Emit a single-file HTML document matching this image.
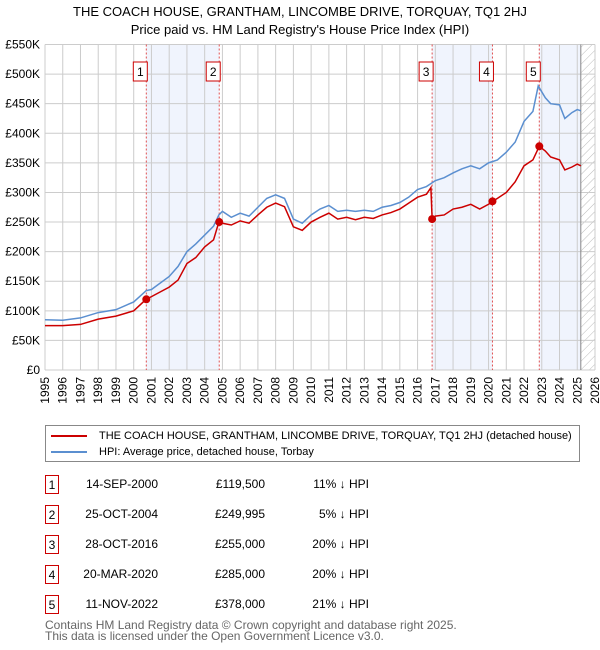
<!DOCTYPE html>
<html><head><meta charset="utf-8"><style>
body{margin:0;background:#fff;font-family:"Liberation Sans","DejaVu Sans",sans-serif;}
#wrap{position:relative;width:600px;height:650px;overflow:hidden;}
.t{position:absolute;font-size:12px;color:#000;white-space:nowrap;}
.box{position:absolute;width:14px;height:19px;border:1px solid #c00;font-size:12px;text-align:center;line-height:19px;box-sizing:border-box;}
</style></head><body><div id="wrap">
<div class="t" style="left:0;width:600px;text-align:center;top:4px;font-size:13px">THE COACH HOUSE, GRANTHAM, LINCOMBE DRIVE, TORQUAY, TQ1 2HJ</div>
<div class="t" style="left:0;width:600px;text-align:center;top:22px;font-size:13px">Price paid vs. HM Land Registry's House Price Index (HPI)</div>
<svg id="chart" width="600" height="420" style="position:absolute;left:0;top:0" font-family="Liberation Sans, DejaVu Sans, sans-serif"></svg>
<div style="position:absolute;left:45px;top:425px;width:535px;height:37px;border:1px solid #888;box-sizing:border-box">
<div style="position:absolute;left:5px;top:4px;font-size:11px;white-space:nowrap"><span style="display:inline-block;width:36px;height:2px;background:#c00;vertical-align:middle;margin-right:12px"></span>THE COACH HOUSE, GRANTHAM, LINCOMBE DRIVE, TORQUAY, TQ1 2HJ (detached house)</div>
<div style="position:absolute;left:5px;top:20px;font-size:11px;white-space:nowrap"><span style="display:inline-block;width:36px;height:2px;background:#5b8fd0;vertical-align:middle;margin-right:12px"></span>HPI: Average price, detached house, Torbay</div>
</div>
<div id="table"></div>
<div class="t" style="left:45px;top:618px;color:#666">Contains HM Land Registry data © Crown copyright and database right 2025.</div>
<div class="t" style="left:45px;top:629px;color:#666">This data is licensed under the Open Government Licence v3.0.</div>
</div>
<script>
const hpiYears=[1995,1996,1997,1998,1999,2000,2000.7,2001,2002,2002.5,2003,2003.5,2004,2004.5,2004.8,2005,2005.5,2006,2006.5,2007,2007.5,2008,2008.5,2009,2009.5,2010,2010.5,2011,2011.5,2012,2012.5,2013,2013.5,2014,2014.5,2015,2015.5,2016,2016.5,2017,2017.5,2018,2018.5,2019,2019.5,2020,2020.5,2021,2021.5,2022,2022.5,2022.8,2023.2,2023.5,2024,2024.3,2024.7,2025,2025.2];
const hpiValues=[85,84,88,97,102,115,134,136,158,175,200,213,228,243,262,268,258,265,260,275,290,296,290,255,248,262,272,278,268,270,268,270,268,275,278,283,292,305,310,320,325,333,340,345,340,350,355,368,385,420,437,480,460,450,448,425,435,440,438];
const priceYears=[1995,1996,1997,1998,1999,2000,2000.7,2001,2002,2002.5,2003,2003.5,2004,2004.5,2004.8,2005,2005.5,2006,2006.5,2007,2007.5,2008,2008.5,2009,2009.5,2010,2010.5,2011,2011.5,2012,2012.5,2013,2013.5,2014,2014.5,2015,2015.5,2016,2016.5,2016.75,2016.82,2017,2017.5,2018,2018.5,2019,2019.5,2020,2020.22,2020.5,2021,2021.5,2022,2022.5,2022.86,2023.2,2023.5,2024,2024.3,2024.7,2025,2025.2];
const priceValues=[75,75,77,86,91,100,119.5,124,140,152,180,190,208,220,250,248,245,252,248,262,275,282,276,242,236,250,258,265,255,258,254,258,256,262,266,272,282,292,297,308,255,260,262,272,275,280,272,280,285,290,300,318,345,355,378,370,360,355,338,343,348,345];
const saleLabels=["1","2","3","4","5"];
const saleYears=[2000.71,2004.82,2016.82,2020.22,2022.86];
const salePrices=[119.5,249.995,255,285,378];
const saleDates=["14-SEP-2000","25-OCT-2004","28-OCT-2016","20-MAR-2020","11-NOV-2022"];
const salePriceText=["£119,500","£249,995","£255,000","£285,000","£378,000"];
const salePct=["11%","5%","20%","20%","21%"];
const yTicks=[0,50,100,150,200,250,300,350,400,450,500,550];
const yTickLabels=["£0","£50K","£100K","£150K","£200K","£250K","£300K","£350K","£400K","£450K","£500K","£550K"];
const dataEnd=2025.2;

const X0=45,X1=595,Y0=370,Y1=44.5,yr0=1995,yr1=2026,vMax=550;
const xs=y=>X0+(y-yr0)/(yr1-yr0)*(X1-X0);
const ys=v=>Y0-v/vMax*(Y0-Y1);
const svg=document.getElementById('chart');
const NS='http://www.w3.org/2000/svg';
function mk(t,a,p){const e=document.createElementNS(NS,t);for(const k in a)e.setAttribute(k,a[k]);(p||svg).appendChild(e);return e;}
for(let i=0;i<saleYears.length;i+=2){
  const end=i+1<saleYears.length?saleYears[i+1]:dataEnd;
  const r=mk('rect',{x:xs(saleYears[i]),y:Y1,width:xs(end)-xs(saleYears[i]),height:Y0-Y1,fill:'#f0f4fd'});
  
  
}
const defs=mk('defs',{});
const pat=mk('pattern',{id:'h',width:6,height:6,patternUnits:'userSpaceOnUse',patternTransform:'rotate(45)'},defs);
mk('line',{x1:0,y1:0,x2:0,y2:6,stroke:'#bbb','stroke-width':1},pat);
const hr=mk('rect',{x:xs(dataEnd),y:Y1,width:X1-xs(dataEnd),height:Y0-Y1,fill:'url(#h)'});


for(let y=yr0;y<=yr1;y++){
  const l=mk('line',{x1:xs(y),x2:xs(y),y1:Y1,y2:Y0,stroke:'#ccc','stroke-width':1});
  
  
  const t=mk('text',{x:0,y:0,'font-size':12,'text-anchor':'end',transform:`translate(${xs(y)+4},${Y0+7}) rotate(-90)`});
  t.textContent=y;
  
  
}
yTicks.forEach((v,i)=>{
  const l=mk('line',{x1:X0,x2:X1,y1:ys(v),y2:ys(v),stroke:'#ccc','stroke-width':1});
  
  
  const t=mk('text',{x:X0-5,y:ys(v)+4,'font-size':12,'text-anchor':'end'});
  t.textContent=yTickLabels[i];
  
  
});
mk('line',{x1:xs(dataEnd),x2:xs(dataEnd),y1:Y1,y2:Y0,stroke:'#888','stroke-width':1});
saleYears.forEach((y,i)=>{
  const l=mk('line',{x1:xs(y),x2:xs(y),y1:Y1,y2:Y0,stroke:'#e05050','stroke-width':1,'stroke-dasharray':'2,2'});
  
  
  const r=mk('rect',{x:xs(y)-13,y:62,width:14,height:19,fill:'#fff',stroke:'#c00'});
  
  
  const t=mk('text',{x:xs(y)-6,y:76,'font-size':12,'text-anchor':'middle'});
  t.textContent=saleLabels[i];
  
  
});
const hp=mk('polyline',{points:hpiYears.map((y,i)=>xs(y)+','+ys(hpiValues[i])).join(' '),fill:'none',stroke:'#5b8fd0','stroke-width':1.5});


const pp=mk('polyline',{points:priceYears.map((y,i)=>xs(y)+','+ys(priceValues[i])).join(' '),fill:'none',stroke:'#c00','stroke-width':1.5});


saleYears.forEach((y,i)=>{
  const c=mk('circle',{cx:xs(y),cy:ys(salePrices[i]),r:4,fill:'#c00'});
  
  
});
const tb=document.getElementById('table');
saleLabels.forEach((lab,i)=>{
  const top=475+i*30;
  const row=document.createElement('div');
  
  
  row.innerHTML=`<div class="box" style="left:45px;top:${top}px">${lab}</div>
<div class="t" style="left:60px;width:98px;text-align:right;top:${top+2}px">${saleDates[i]}</div>
<div class="t" style="left:180px;width:85px;text-align:right;top:${top+2}px">${salePriceText[i]}</div>
<div class="t" style="left:280px;width:89px;text-align:right;top:${top+2}px">${salePct[i]} ↓ HPI</div>`;
  tb.appendChild(row);
});
</script></body></html>
